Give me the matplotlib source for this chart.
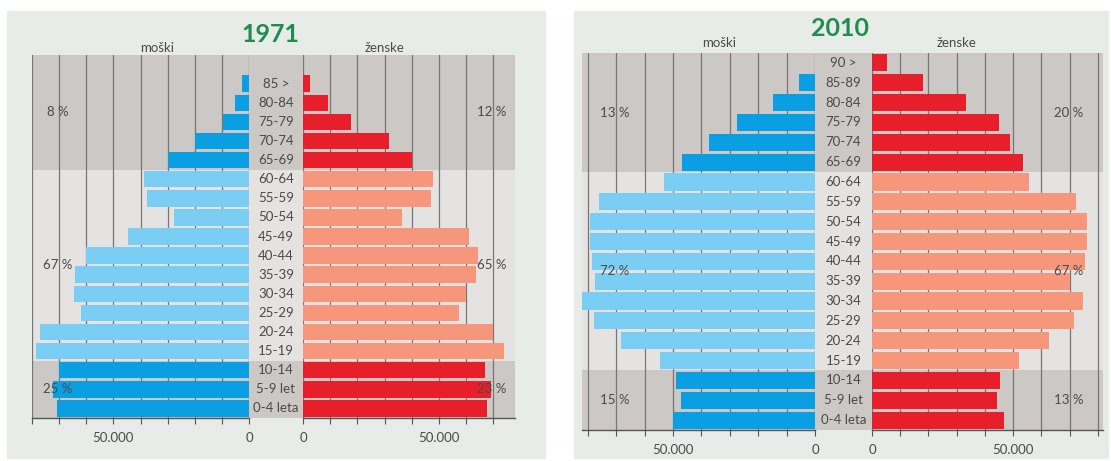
import numpy as np
import matplotlib.pyplot as plt
from matplotlib.patches import Rectangle
from matplotlib.ticker import FixedLocator, FuncFormatter

plt.rcParams['font.family'] = ['Lato', 'DejaVu Sans']

W, H = 1111, 461

# ---- data (from bottom row upward) ----
ages_1971 = ['0-4 leta', '5-9 let', '10-14', '15-19', '20-24', '25-29', '30-34',
             '35-39', '40-44', '45-49', '50-54', '55-59', '60-64', '65-69',
             '70-74', '75-79', '80-84', '85 >']
male_1971 = [70700, 72100, 70000, 78700, 77100, 62000, 64600, 64200, 60000,
             44500, 27600, 37500, 38600, 29800, 19900, 9500, 5100, 2600]
female_1971 = [67800, 69300, 67000, 74000, 69800, 57300, 60000, 63700, 64400,
               60900, 36400, 47000, 47700, 40000, 31600, 17700, 9200, 2400]
shares_m_1971 = ['25 %', '67 %', '8 %']
shares_f_1971 = ['23 %', '65 %', '12 %']

ages_2010 = ['0-4 leta', '5-9 let', '10-14', '15-19', '20-24', '25-29', '30-34',
             '35-39', '40-44', '45-49', '50-54', '55-59', '60-64', '65-69',
             '70-74', '75-79', '80-84', '85-89', '90 >']
male_2010 = [50000, 47200, 49000, 54600, 68200, 77800, 81900, 77300, 78500,
             79300, 79300, 75900, 53000, 46700, 37200, 27600, 14900, 5800, 0]
female_2010 = [46900, 44200, 45400, 51900, 62800, 71400, 74600, 70200, 75600,
               76100, 76100, 72200, 55600, 53500, 49000, 45000, 33400, 17900, 5400]
shares_m_2010 = ['15 %', '72 %', '13 %']
shares_f_2010 = ['13 %', '67 %', '20 %']

young_col = {'m': '#0a9fe2', 'f': '#e61f2b'}
mid_col = {'m': '#7acdf3', 'f': '#f6977b'}
old_col = {'m': '#0a9fe2', 'f': '#e61f2b'}

panel_bg = '#e8ece8'
band_dark = '#cbc8c6'
band_light = '#e5e2e2'
txt = '#4a4a4a'


def box(l, t, r, b):
    return [l / W, 1 - b / H, (r - l) / W, (b - t) / H]


def bar_colors(n, side):
    cols = []
    for i in range(n):
        if i <= 2:
            cols.append(young_col[side])
        elif i <= 12:
            cols.append(mid_col[side])
        else:
            cols.append(old_col[side])
    return cols


def fmt(v, pos):
    if v == 0:
        return '0'
    if v == 50000:
        return '50.000'
    return ''


def draw_panel(fig, title, ages, male, female, sh_m, sh_f, g):
    fig.add_artist(Rectangle((g['px0'] / W, 1 - g['py1'] / H),
                             (g['px1'] - g['px0']) / W, (g['py1'] - g['py0']) / H,
                             transform=fig.transFigure, color=panel_bg, zorder=-5))
    ylim = (-0.5, 18.5)

    # band background
    bg = fig.add_axes(box(g['l'], g['t'], g['r'], g['b']))
    bg.set_xlim(0, 1)
    bg.set_ylim(*ylim)
    bg.axhspan(-0.5, 2.5, color=band_dark, lw=0)
    bg.axhspan(2.5, 12.5, color=band_light, lw=0)
    bg.axhspan(12.5, 18.5, color=band_dark, lw=0)
    bg.axis('off')

    y = np.arange(len(ages))
    axm = fig.add_axes(box(g['l'], g['t'], g['zm'], g['b']))
    axf = fig.add_axes(box(g['zf'], g['t'], g['r'], g['b']))
    axm.set_xlim(g['xm'], 0)
    axf.set_xlim(0, g['xf'])
    axm.barh(y, male, height=0.86, color=bar_colors(len(ages), 'm'), zorder=3)
    axf.barh(y, female, height=0.86, color=bar_colors(len(ages), 'f'), zorder=3)

    for ax, gmax in ((axm, g['gm']), (axf, g['gf'])):
        ax.set_facecolor('none')
        ax.set_ylim(*ylim)
        ax.set_yticks([])
        ax.xaxis.set_major_locator(FixedLocator(np.arange(0, gmax + 1, 10000)))
        ax.xaxis.set_major_formatter(FuncFormatter(fmt))
        ax.grid(axis='x', color='#767676', lw=0.9)
        ax.set_axisbelow(True)
        for s in ('left', 'right', 'top'):
            ax.spines[s].set_visible(False)
        ax.spines['bottom'].set_color('#555555')
        ax.spines['bottom'].set_linewidth(1.0)
        ax.tick_params(axis='x', direction='out', length=4, width=0.8, color='#555555',
                       labelsize=9.5, labelcolor=txt, pad=6)

    # age labels in the middle column
    axc = fig.add_axes(box(g['zm'], g['t'], g['zf'], g['b']))
    axc.set_xlim(0, 1)
    axc.set_ylim(*ylim)
    axc.axis('off')
    for i, a in enumerate(ages):
        axc.text(0.5, i, a, ha='center', va='center', fontsize=9.5, color=txt)

    # share labels
    for yc, sm, sf in zip([1.0, 7.5, 15.5], sh_m, sh_f):
        axm.text(70500, yc, sm, ha='center', va='center', fontsize=9.5, color=txt, zorder=5)
        axf.text(69500, yc, sf, ha='center', va='center', fontsize=9.5, color=txt, zorder=5)

    axm.annotate('moški', (33700, 1.0), xycoords=('data', 'axes fraction'),
                 xytext=(0, g['lab_off']), textcoords='offset points',
                 ha='center', va='bottom', fontsize=9.5, color=txt)
    axf.annotate('ženske', (30100, 1.0), xycoords=('data', 'axes fraction'),
                 xytext=(0, g['lab_off']), textcoords='offset points',
                 ha='center', va='bottom', fontsize=9.5, color=txt)

    fig.text(g['tx'] / W, 1 - g['ty'] / H, title, ha='center', va='center',
             fontsize=18, fontweight='bold', color='#1f8d4c')


fig = plt.figure(figsize=(W / 100, H / 100), dpi=100)

draw_panel(fig, '1971', ages_1971, male_1971, female_1971, shares_m_1971, shares_f_1971,
           dict(px0=7, px1=545, py0=11, py1=458, l=32, zm=249, zf=303, r=515,
                t=55, b=418, xm=80000, xf=78000, gm=80000, gf=70000,
                lab_off=0.5, tx=270, ty=34))
draw_panel(fig, '2010', ages_2010, male_2010, female_2010, shares_m_2010, shares_f_2010,
           dict(px0=574, px1=1108, py0=11, py1=458, l=582, zm=815, zf=872, r=1103,
                t=53, b=430, xm=82000, xf=81800, gm=80000, gf=80000,
                lab_off=3, tx=840, ty=29))

fig.savefig('out.png', dpi=100)
